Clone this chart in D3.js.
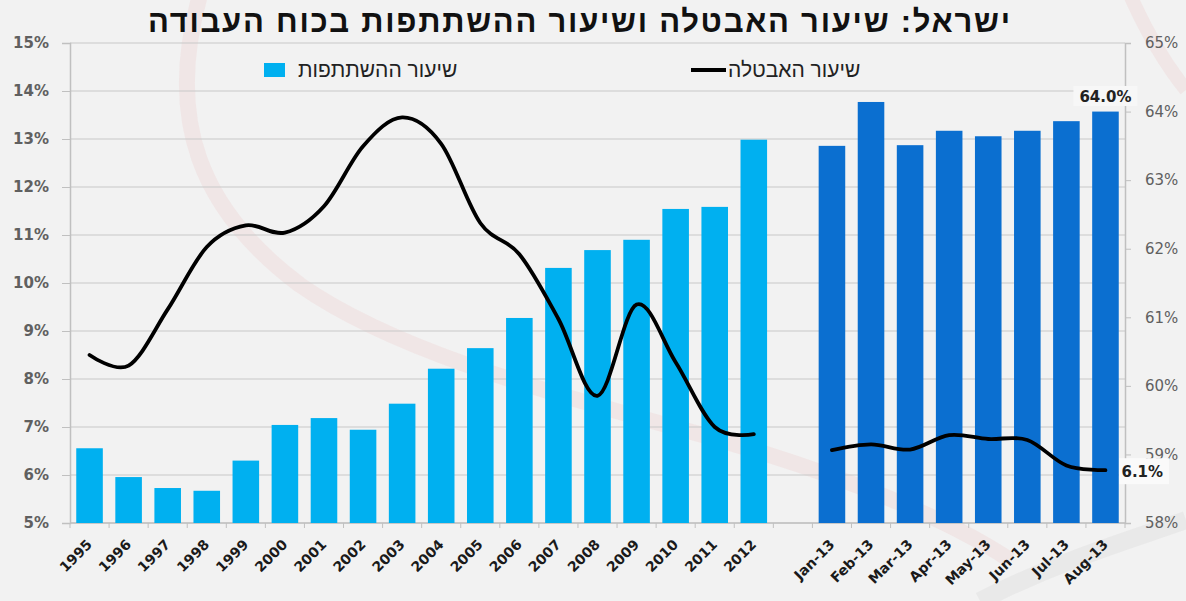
<!DOCTYPE html>
<html>
<head>
<meta charset="utf-8">
<script src="https://cdn.jsdelivr.net/npm/d3@7"></script>
<style>
  body { margin: 0; background: #f2f2f2; }
  svg { display: block; }
</style>
</head>
<body>
<div id="chart"></div>
<script>
// annual data
const years = ["1995","1996","1997","1998","1999","2000","2001","2002","2003","2004","2005","2006","2007","2008","2009","2010","2011","2012"];
const participationYears = [59.09, 58.67, 58.51, 58.47, 58.91, 59.43, 59.53, 59.36, 59.74, 60.25, 60.55, 60.99, 61.72, 61.98, 62.13, 62.58, 62.61, 63.59];
const unemploymentYears = [8.5, 8.28, 9.45, 10.75, 11.2, 11.05, 11.6, 12.85, 13.45, 12.9, 11.25, 10.6, 9.25, 7.65, 9.55, 8.35, 7.0, 6.85];

// monthly data 2013
const months = ["Jan-13","Feb-13","Mar-13","Apr-13","May-13","Jun-13","Jul-13","Aug-13"];
const participationMonths = [63.5, 64.14, 63.51, 63.72, 63.64, 63.72, 63.86, 64.0];
const unemploymentMonths = [6.52, 6.64, 6.53, 6.83, 6.75, 6.73, 6.2, 6.1];

const leftTicks = [5, 6, 7, 8, 9, 10, 11, 12, 13, 14, 15];
const rightTicks = [58, 59, 60, 61, 62, 63, 64, 65];

const title = "ישראל: שיעור האבטלה ושיעור ההשתתפות בכוח העבודה";
const legendBars = "שיעור ההשתתפות";
const legendLine = "שיעור האבטלה";

const width = 1186, height = 601;
const plot = { left: 70, right: 1125, top: 43, bottom: 523 };
const gapKey = "gap";

const svg = d3.select("#chart").append("svg")
  .attr("width", width)
  .attr("height", height)
  .style("font-family", "'DejaVu Sans', sans-serif");

svg.append("rect").attr("width", width).attr("height", height).attr("fill", "#f2f2f2");

// faint watermark swooshes in the background
var deco = svg.append("g").attr("fill", "none");
deco.append("path")
  .attr("d", "M 200,-5 C 165,120 200,210 300,285 C 400,355 560,395 720,440 C 850,478 950,520 1010,560")
  .attr("stroke", "#e8a0a0").attr("stroke-width", 16).attr("opacity", 0.14);
deco.append("path")
  .attr("d", "M 1130,-5 C 1150,40 1170,70 1186,90")
  .attr("stroke", "#e8a0a0").attr("stroke-width", 14).attr("opacity", 0.14);
deco.append("path")
  .attr("d", "M 980,601 C 1060,560 1130,540 1186,520")
  .attr("stroke", "#bbbbbb").attr("stroke-width", 18).attr("opacity", 0.14);

var x = d3.scaleBand()
  .domain(years.concat([gapKey], months))
  .range([plot.left, plot.right])
  .paddingInner(0.32)
  .paddingOuter(0.16);

var yLeft = d3.scaleLinear().domain([5, 15]).range([plot.bottom, plot.top]);
var yRight = d3.scaleLinear().domain([58, 65]).range([plot.bottom, plot.top]);

// gridlines
svg.append("g")
  .selectAll("line")
  .data(leftTicks)
  .enter()
  .append("line")
  .attr("x1", plot.left)
  .attr("x2", plot.right)
  .attr("y1", d => yLeft(d))
  .attr("y2", d => yLeft(d))
  .attr("stroke", "#c8c8c8")
  .attr("stroke-width", 1.2);

// left axis
var leftAxis = svg.append("g")
  .attr("transform", `translate(${plot.left},0)`)
  .call(d3.axisLeft(yLeft).tickValues(leftTicks).tickSize(8).tickPadding(13).tickFormat(d => d + "%"));
leftAxis.select(".domain").attr("stroke", "#c0c0c0").attr("stroke-width", 1.5);
leftAxis.selectAll(".tick line").attr("stroke", "#c0c0c0");
leftAxis.selectAll("text")
  .attr("fill", "#606060")
  .style("font-size", "15px")
  .style("font-weight", "bold")
  .style("font-family", "'DejaVu Sans', sans-serif");

// right axis
var rightAxis = svg.append("g")
  .attr("transform", `translate(${plot.right},0)`)
  .call(d3.axisRight(yRight).tickValues(rightTicks).tickSize(6).tickPadding(14).tickFormat(d => d + "%"));
rightAxis.select(".domain").attr("stroke", "#c0c0c0").attr("stroke-width", 1.5);
rightAxis.selectAll(".tick line").attr("stroke", "#c0c0c0");
rightAxis.selectAll("text")
  .attr("fill", "#606060")
  .style("font-size", "15px")
  .style("font-family", "'DejaVu Sans', sans-serif");

// bottom axis line and ticks at category boundaries
var boundaries = x.domain().map(d => x(d) - x.step() * x.paddingInner() / 2);
boundaries.push(plot.right);
svg.append("line")
  .attr("x1", plot.left).attr("x2", plot.right)
  .attr("y1", plot.bottom).attr("y2", plot.bottom)
  .attr("stroke", "#c0c0c0").attr("stroke-width", 1.5);
svg.append("g")
  .selectAll("line")
  .data(boundaries)
  .enter()
  .append("line")
  .attr("x1", d => d).attr("x2", d => d)
  .attr("y1", plot.bottom).attr("y2", plot.bottom + 5)
  .attr("stroke", "#c0c0c0");

// bars
var annual = years.map((d, i) => ({ key: d, value: participationYears[i] }));
var monthly = months.map((d, i) => ({ key: d, value: participationMonths[i] }));

svg.append("g")
  .selectAll("rect")
  .data(annual)
  .enter()
  .append("rect")
  .attr("x", d => x(d.key))
  .attr("width", x.bandwidth())
  .attr("y", d => yRight(d.value))
  .attr("height", d => plot.bottom - yRight(d.value))
  .attr("fill", "#00b0f0");

svg.append("g")
  .selectAll("rect")
  .data(monthly)
  .enter()
  .append("rect")
  .attr("x", d => x(d.key))
  .attr("width", x.bandwidth())
  .attr("y", d => yRight(d.value))
  .attr("height", d => plot.bottom - yRight(d.value))
  .attr("fill", "#0b6fd0");

// unemployment lines (smoothed, broken at the gap)
var line = d3.line()
  .x(d => x(d.key) + x.bandwidth() / 2)
  .y(d => yLeft(d.value))
  .curve(d3.curveCardinal.tension(0));

var lineAnnual = years.map((d, i) => ({ key: d, value: unemploymentYears[i] }));
var lineMonthly = months.map((d, i) => ({ key: d, value: unemploymentMonths[i] }));

[lineAnnual, lineMonthly].forEach(function (series) {
  svg.append("path")
    .datum(series)
    .attr("d", line)
    .attr("fill", "none")
    .attr("stroke", "#000")
    .attr("stroke-width", 3.8)
    .attr("stroke-linecap", "round");
});

// x labels
svg.append("g")
  .selectAll("text")
  .data(years.concat(months))
  .enter()
  .append("text")
  .attr("transform", d => `translate(${x(d) + x.bandwidth() / 2},542) rotate(-45)`)
  .attr("text-anchor", "end")
  .attr("dy", "0.35em")
  .attr("fill", "#1a1a1a")
  .style("font-size", "14px")
  .style("font-weight", "bold")
  .text(d => d);

// data labels
var lastMonth = months[months.length - 1];
var cxLast = x(lastMonth) + x.bandwidth() / 2;

var topLabel = svg.append("g");
topLabel.append("rect")
  .attr("x", cxLast - 32).attr("y", 86)
  .attr("width", 64).attr("height", 20)
  .attr("fill", "#f7f7f7");
topLabel.append("text")
  .attr("x", cxLast)
  .attr("y", 102)
  .attr("text-anchor", "middle")
  .attr("fill", "#222")
  .style("font-size", "15px")
  .style("font-weight", "bold")
  .text(participationMonths[participationMonths.length - 1].toFixed(1) + "%");

var endY = yLeft(unemploymentMonths[unemploymentMonths.length - 1]);
var sideLabel = svg.append("g");
sideLabel.append("rect")
  .attr("x", plot.right - 6).attr("y", endY - 12)
  .attr("width", 50).attr("height", 26)
  .attr("fill", "#fafafa");
sideLabel.append("text")
  .attr("x", cxLast + 16)
  .attr("y", endY + 7)
  .attr("fill", "#222")
  .style("font-size", "15px")
  .style("font-weight", "bold")
  .text(unemploymentMonths[unemploymentMonths.length - 1].toFixed(1) + "%");

// legend
var legend = svg.append("g").style("font-family", "'Liberation Sans', Arial, sans-serif");
legend.append("rect")
  .attr("x", 264).attr("y", 63)
  .attr("width", 21).attr("height", 14)
  .attr("fill", "#00b0f0");
legend.append("text")
  .attr("x", 298).attr("y", 77)
  .attr("fill", "#222")
  .style("font-size", "21px")
  .text(legendBars);
legend.append("line")
  .attr("x1", 691).attr("x2", 726)
  .attr("y1", 70).attr("y2", 70)
  .attr("stroke", "#000").attr("stroke-width", 4);
legend.append("text")
  .attr("x", 728).attr("y", 77)
  .attr("fill", "#222")
  .style("font-size", "21px")
  .text(legendLine);

// title, spread to the width it has in the source
svg.append("text")
  .attr("x", 579)
  .attr("y", 32)
  .attr("text-anchor", "middle")
  .attr("direction", "rtl")
  .attr("fill", "#111")
  .attr("textLength", 862)
  .attr("lengthAdjust", "spacing")
  .style("font-family", "'Liberation Sans', Arial, sans-serif")
  .style("font-weight", "bold")
  .style("font-size", "31px")
  .text(title);
</script>
</body>
</html>
